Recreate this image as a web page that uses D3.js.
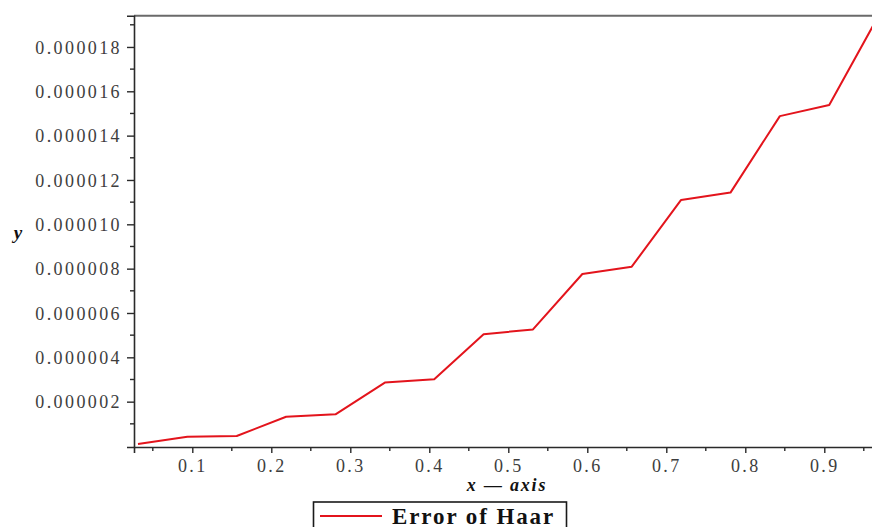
<!DOCTYPE html>
<html>
<head>
<meta charset="utf-8">
<script src="https://cdn.jsdelivr.net/npm/d3@7/dist/d3.min.js"></script>
<style>
  html, body { margin: 0; padding: 0; background: #ffffff; overflow: hidden; }
  svg { display: block; }
  .tick-label { font-family: "Liberation Serif", "Times New Roman", serif; font-size: 18px; fill: #3d3d3d; letter-spacing: 2.4px; }
  .axis-title { font-family: "Liberation Serif", "Times New Roman", serif; font-weight: bold; font-style: italic; fill: #111; }
  .legend-text { font-family: "Liberation Serif", "Times New Roman", serif; font-weight: bold; fill: #111; }
</style>
</head>
<body>
<svg id="chart" width="872" height="527"></svg>
<script>
// Collocation points and the absolute error of the Haar wavelet solution
const xPoints = [0.03125, 0.09375, 0.15625, 0.21875, 0.28125, 0.34375, 0.40625, 0.46875,
                 0.53125, 0.59375, 0.65625, 0.71875, 0.78125, 0.84375, 0.90625, 0.96875];
const haarError = [0.09e-6, 0.42e-6, 0.45e-6, 1.32e-6, 1.43e-6, 2.86e-6, 3.01e-6, 5.04e-6,
                   5.26e-6, 7.76e-6, 8.09e-6, 11.10e-6, 11.43e-6, 14.88e-6, 15.38e-6, 19.41e-6];

const xMajorTicks = [0.1, 0.2, 0.3, 0.4, 0.5, 0.6, 0.7, 0.8, 0.9];
const xMinorTicks = [0.05, 0.15, 0.25, 0.35, 0.45, 0.55, 0.65, 0.75, 0.85, 0.95];
const yMajorTicks = [2e-6, 4e-6, 6e-6, 8e-6, 10e-6, 12e-6, 14e-6, 16e-6, 18e-6];
const yMinorTicks = [1e-6, 3e-6, 5e-6, 7e-6, 9e-6, 11e-6, 13e-6, 15e-6, 17e-6, 19e-6];

const seriesName = "Error of Haar";
const xTitle = "x \u2014 axis";
const yTitle = "y";

const svg = d3.select("#chart");

const plot = { left: 134, right: 878.6, top: 15.7, bottom: 447 };

const x = d3.scaleLinear().domain([0.0262, 0.96875]).range([plot.left, plot.right]);
const y = d3.scaleLinear().domain([-0.045e-6, 19.41e-6]).range([plot.bottom, plot.top]);

// frame top edge
svg.append("line")
  .attr("x1", plot.left).attr("x2", plot.right)
  .attr("y1", plot.top).attr("y2", plot.top)
  .attr("stroke", "#6a6a6a").attr("stroke-width", 2);

// x axis
const fmtX = d3.format(".1f");
const gx = svg.append("g").attr("transform", `translate(0,${plot.bottom})`);
gx.call(d3.axisBottom(x).tickValues(xMajorTicks).tickSize(6).tickFormat(fmtX));
gx.call(g => g.select(".domain").attr("stroke", "#2a2a2a").attr("stroke-width", 1.6));
gx.selectAll(".tick line").attr("stroke", "#2a2a2a").attr("stroke-width", 1.4);
gx.selectAll(".tick text").attr("class", "tick-label").attr("y", 12).attr("dy", "0.71em")
  .attr("font-size", null).attr("font-family", null).attr("fill", null);
gx.selectAll(".minor").data(xMinorTicks).join("line")
  .attr("class", "minor")
  .attr("x1", d => x(d)).attr("x2", d => x(d))
  .attr("y1", 0).attr("y2", 4)
  .attr("stroke", "#2a2a2a").attr("stroke-width", 1.4);

// y axis
const fmtY = d3.format(".6f");
const gy = svg.append("g").attr("transform", `translate(${plot.left},0)`);
gy.call(d3.axisLeft(y).tickValues(yMajorTicks).tickSize(7).tickFormat(fmtY));
gy.call(g => g.select(".domain").attr("stroke", "#2a2a2a").attr("stroke-width", 1.6));
gy.selectAll(".tick line").attr("stroke", "#2a2a2a").attr("stroke-width", 1.4);
gy.selectAll(".tick text").attr("class", "tick-label").attr("x", -12).attr("dy", "0.34em")
  .attr("font-size", null).attr("font-family", null).attr("fill", null);
gy.selectAll(".minor").data(yMinorTicks).join("line")
  .attr("class", "minor")
  .attr("x1", 0).attr("x2", -4)
  .attr("y1", d => y(d)).attr("y2", d => y(d))
  .attr("stroke", "#2a2a2a").attr("stroke-width", 1.4);

// axis titles
svg.append("text").attr("class", "axis-title")
  .attr("x", 507).attr("y", 491)
  .attr("text-anchor", "middle")
  .attr("font-size", 18).attr("letter-spacing", "1.8px")
  .text(xTitle);
svg.append("text").attr("class", "axis-title")
  .attr("x", 18).attr("y", 239)
  .attr("text-anchor", "middle")
  .attr("font-size", 19)
  .text(yTitle);

// error curve
const line = d3.line().x((d, i) => x(xPoints[i])).y(d => y(d));
svg.append("path")
  .datum(haarError)
  .attr("fill", "none")
  .attr("stroke", "#e3141c")
  .attr("stroke-width", 2)
  .attr("stroke-linejoin", "round")
  .attr("d", line);

// legend
const legend = svg.append("g");
legend.append("rect")
  .attr("x", 313.5).attr("y", 502)
  .attr("width", 253).attr("height", 40)
  .attr("fill", "#ffffff").attr("stroke", "#1a1a1a").attr("stroke-width", 1.6);
legend.append("line")
  .attr("x1", 320).attr("x2", 382)
  .attr("y1", 516).attr("y2", 516)
  .attr("stroke", "#e3141c").attr("stroke-width", 2.2);
legend.append("text").attr("class", "legend-text")
  .attr("x", 392).attr("y", 523.5)
  .attr("font-size", 23).attr("letter-spacing", "1.9px")
  .text(seriesName);
</script>
</body>
</html>
